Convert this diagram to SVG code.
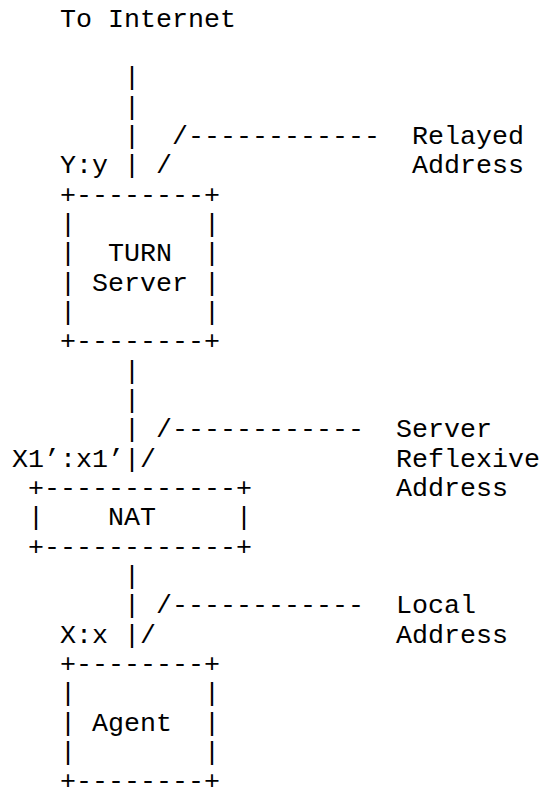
<svg xmlns="http://www.w3.org/2000/svg" width="541" height="789" viewBox="0 0 541 789" xml:space="preserve">
<style>
text { font-family: "Liberation Mono", "Courier New", monospace; font-size: 26.67px; fill: #000; white-space: pre; }
</style>
<rect width="541" height="789" fill="#fff"/>
<g id="internet">
<text x="60" y="26.7">To Internet</text>
</g>
<g id="connectors">
<text x="124" y="85.4">|</text>
<text x="124" y="114.7">|</text>
<text x="124" y="144.0">|  /------------</text>
<text x="124" y="173.4">| /</text>
<text x="124" y="378.7">|</text>
<text x="124" y="408.0">|</text>
<text x="124" y="437.3">| /------------</text>
<text x="124" y="466.6">|/</text>
<text x="124" y="584.0">|</text>
<text x="124" y="613.3">| /------------</text>
<text x="124" y="642.6">|/</text>
</g>
<g id="labels">
<text x="412" y="144.0">Relayed</text>
<text x="60" y="173.4">Y:y</text>
<text x="412" y="173.4">Address</text>
<text x="396" y="437.3">Server</text>
<text x="12" y="466.6">X1’:x1’</text>
<text x="396" y="466.6">Reflexive</text>
<text x="396" y="496.0">Address</text>
<text x="396" y="613.3">Local</text>
<text x="60" y="642.6">X:x</text>
<text x="396" y="642.6">Address</text>
</g>
<g id="turn-server">
<text x="60" y="202.7">+--------+</text>
<text x="60" y="232.0">|        |</text>
<text x="60" y="261.3">|  TURN  |</text>
<text x="60" y="290.7">| Server |</text>
<text x="60" y="320.0">|        |</text>
<text x="60" y="349.3">+--------+</text>
</g>
<g id="nat">
<text x="28" y="496.0">+------------+</text>
<text x="28" y="525.3">|    NAT     |</text>
<text x="28" y="554.6">+------------+</text>
</g>
<g id="agent">
<text x="60" y="671.9">+--------+</text>
<text x="60" y="701.3">|        |</text>
<text x="60" y="730.6">| Agent  |</text>
<text x="60" y="759.9">|        |</text>
<text x="60" y="789.3">+--------+</text>
</g>
</svg>
